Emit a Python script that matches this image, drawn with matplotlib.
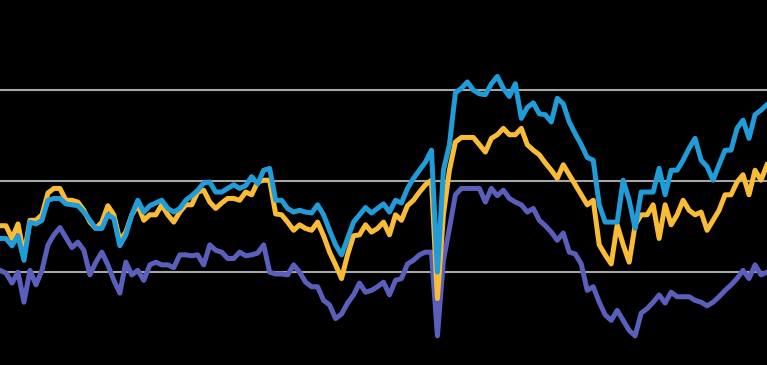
import numpy as np
import matplotlib
matplotlib.use("Agg")
import matplotlib.pyplot as plt

# monthly index readings (50 = middle gridline)
blue = [43.7, 43.7, 42.9, 44.0, 41.3, 45.5, 45.3, 45.7, 47.9, 48.1,
        48.1, 47.5, 47.4, 47.3, 46.6, 45.7, 44.8, 44.8, 46.3, 45.9,
        42.9, 44.1, 46.3, 47.9, 46.6, 47.3, 47.6, 47.9, 47.0, 46.6,
        47.0, 47.9, 48.4, 49.0, 49.8, 49.9, 48.8, 48.8, 49.2, 49.6,
        49.2, 49.5, 50.5, 49.7, 51.2, 51.4, 47.9, 47.9, 47.0, 46.6,
        46.8, 46.6, 46.5, 47.4, 46.3, 44.6, 43.0, 41.9, 43.7, 45.5,
        46.3, 47.1, 46.5, 47.0, 47.5, 46.6, 47.9, 47.6, 49.2, 50.3,
        51.2, 52.1, 53.4, 40.0, 51.2, 54.0, 59.7, 60.2, 60.9, 60.0,
        59.6, 59.5, 60.7, 61.5, 60.2, 59.3, 60.7, 56.9, 58.1, 58.6,
        57.4, 57.3, 56.5, 59.1, 58.5, 56.5, 55.2, 54.0, 52.6, 52.3,
        47.4, 45.5, 45.5, 45.5, 50.1, 47.9, 44.8, 48.8, 48.8, 48.8,
        51.4, 48.5, 51.2, 51.2, 52.3, 53.6, 54.7, 52.3, 51.6, 50.1,
        51.8, 53.4, 53.4, 55.8, 56.7, 54.7, 57.3, 57.8, 58.4]

yellow = [45.1, 45.1, 43.7, 45.3, 41.9, 45.7, 45.7, 46.3, 48.7, 49.2,
          49.2, 47.9, 47.9, 47.7, 46.8, 45.5, 44.8, 45.5, 47.3, 46.3,
          43.5, 44.4, 46.3, 47.4, 45.7, 46.3, 46.3, 47.4, 46.3, 45.5,
          46.6, 47.4, 47.4, 48.8, 49.0, 47.7, 47.0, 47.6, 48.1, 48.1,
          47.9, 48.8, 48.5, 49.9, 50.1, 50.1, 46.4, 46.3, 45.5, 44.6,
          45.2, 44.8, 44.6, 45.5, 44.0, 42.2, 40.8, 39.3, 41.9, 44.0,
          44.1, 45.2, 44.4, 44.8, 45.5, 44.1, 46.3, 45.7, 47.3, 47.9,
          48.8, 49.6, 50.1, 37.1, 46.3, 51.2, 54.3, 54.8, 54.8, 54.8,
          54.0, 53.2, 54.7, 55.1, 55.8, 55.1, 55.1, 55.8, 54.0, 53.4,
          52.9, 52.0, 51.2, 50.3, 51.8, 50.7, 49.6, 48.5, 47.4, 47.9,
          43.0, 41.9, 40.9, 45.2, 43.0, 41.1, 45.2, 46.3, 46.3, 47.4,
          43.7, 47.4, 45.2, 46.3, 47.9, 46.8, 46.3, 46.6, 44.6, 45.7,
          46.8, 48.5, 48.5, 49.9, 50.7, 48.5, 51.2, 50.1, 51.8]

purple = [40.2, 39.9, 38.8, 40.0, 36.7, 40.2, 38.6, 40.2, 43.0, 44.1,
          44.9, 43.8, 42.7, 43.3, 42.4, 39.7, 41.1, 42.2, 40.8, 39.1,
          37.7, 41.1, 39.7, 40.2, 39.1, 40.8, 41.1, 40.8, 40.8, 40.5,
          41.9, 41.9, 41.8, 41.9, 40.8, 43.0, 42.4, 42.2, 41.5, 41.5,
          42.2, 41.8, 41.9, 42.1, 43.0, 40.0, 39.8, 39.8, 39.7, 40.8,
          40.0, 38.9, 38.4, 38.4, 36.9, 36.4, 34.9, 35.4, 36.6, 37.5,
          38.8, 37.8, 38.0, 38.4, 38.9, 37.5, 39.1, 39.3, 40.9, 41.3,
          41.9, 42.2, 42.2, 33.0, 41.3, 44.8, 48.5, 49.2, 49.2, 49.2,
          49.2, 47.7, 49.2, 48.4, 49.0, 48.1, 47.7, 47.4, 46.6, 47.0,
          45.7, 45.1, 44.4, 43.5, 44.3, 42.2, 42.0, 40.9, 38.0, 38.4,
          36.7, 35.3, 34.7, 35.8, 34.7, 33.6, 33.0, 35.5, 36.0, 36.7,
          37.5, 36.6, 37.8, 37.3, 37.3, 37.3, 36.9, 36.7, 36.3, 36.7,
          37.3, 38.0, 38.6, 39.3, 40.2, 39.3, 40.8, 39.7, 40.0]

grid_levels = [40, 50, 60]

x = np.arange(len(blue))

fig = plt.figure(figsize=(7.67, 3.65), dpi=100, facecolor='black')
ax = fig.add_axes([0, 0, 1, 1])
ax.set_facecolor('black')

for g in grid_levels:
    ax.axhline(g, color='#a6a6a6', lw=1.5, zorder=1)

ax.plot(x, purple, color='#5a5fbb', lw=3.6, zorder=2)
ax.plot(x, yellow, color='#fbbc35', lw=3.6, zorder=3)
ax.plot(x, blue, color='#209cd8', lw=3.6, zorder=4)

ax.set_xlim(0, len(blue) - 1)
ax.set_ylim(29.8, 69.9)
ax.axis('off')

fig.savefig('out.png', dpi=100, facecolor='black')
